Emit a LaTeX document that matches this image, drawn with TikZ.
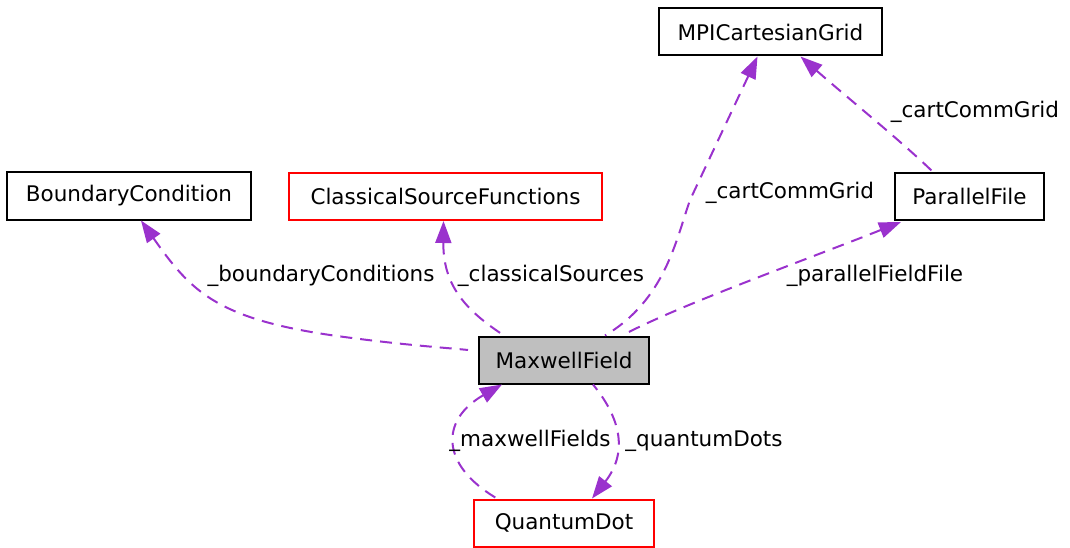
\documentclass[tikz,border=0pt]{standalone}
\usepackage{fontspec}
\setmainfont{DejaVu Sans}
\usepackage{xcolor}
\usepackage{tikz}
\usetikzlibrary{positioning,calc,arrows.meta}
\definecolor{relcol}{HTML}{9A32CD}
\definecolor{curfill}{HTML}{BFBFBF}

\begin{document}
\begin{tikzpicture}[
  x=1pt, y=-1pt,
  font=\fontsize{21.5}{25}\selectfont,
  >={Triangle[length=22pt,width=16pt]},
  cls/.style={rectangle, draw=black, fill=white, line width=2pt,
    minimum height=47pt, inner sep=0pt, align=center},
  clsred/.style={cls, draw=red},
  cur/.style={cls, fill=curfill},
  rel/.style={<-, draw=relcol, fill=none, line width=2pt,
    dash pattern=on 12pt off 8pt},
  lab/.style={inner sep=1pt}
]
\useasboundingbox (0,0) rectangle (1070,548);
% Classes
\node[cls, minimum width=223pt]    (mpi) at (770.5,32)  {MPICartesianGrid};
\node[cls, minimum width=244pt]    (bc)  at (129,196)   {BoundaryCondition};
\node[clsred, minimum width=313pt] (csf) at (445.5,196.5) {ClassicalSourceFunctions};
\node[cls, minimum width=149pt]    (pf)  at (969.5,196.5) {ParallelFile};
\node[cur, minimum width=170pt]    (mf)  at (564,360)   {MaxwellField};
\node[clsred, minimum width=180pt] (qd)  at (564,523)   {QuantumDot};
% Usage relations (arrow at the used class)
\draw[rel] ($(bc.south)+(12,0)$) .. controls (190,290) and (215,318) .. (330,335)
  .. controls (400,345) and (450,348) .. ($(mf.west)+(-10,-10)$);
\draw[rel] ($(csf.south)+(-2,0)$) .. controls (443,285) and (465,310) .. ($(mf.north)+(-60,0)$);
\draw[rel] ($(mpi.south)+(-13,0)$) -- (690,200) .. controls (676,240) and (665,300) .. ($(mf.north)+(41,0)$);
\draw[rel] ($(pf.south west)+(7,1)$) .. controls (800,262) and (680,305) .. ($(mf.north)+(58,0)$);
\draw[rel] ($(mpi.south)+(30,0)$) .. controls (850,100) and (900,140) .. ($(pf.north west)+(39,0)$);
\draw[rel] ($(qd.north)+(28,0)$) .. controls (630,450) and (618,415) .. ($(mf.south)+(29,0)$);
\draw[rel] ($(mf.south)+(-62,0)$) .. controls (440,420) and (440,465) .. ($(qd.north)+(-67,0)$);
% Member names
\node[lab] (lbc)   at (321,276) {\_boundaryConditions};
\node[lab] (lcsf)  at (551,276) {\_classicalSources};
\node[lab] (lmpi)  at (790,193) {\_cartCommGrid};
\node[lab] (lpf)   at (875,276) {\_parallelFieldFile};
\node[lab] (lpmpi) at (975,112) {\_cartCommGrid};
\node[lab] (lmf)   at (530,441) {\_maxwellFields};
\node[lab] (lqd)   at (704,441) {\_quantumDots};
\end{tikzpicture}
\end{document}
